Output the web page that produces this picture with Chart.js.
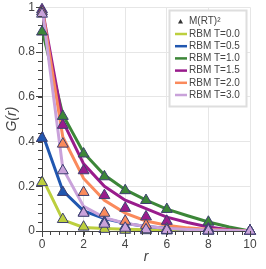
<!DOCTYPE html>
<html>
<head>
<meta charset="utf-8">
<script src="https://cdn.jsdelivr.net/npm/chart.js@4/dist/chart.umd.min.js"></script>
<style>
html,body{margin:0;padding:0;background:#fff;}
#wrap{width:266px;height:269px;position:relative;}
</style>
</head>
<body>
<div id="wrap"><canvas id="c" width="266" height="269"></canvas></div>
<script>
// ---- data ----
const lineR = [0, 1, 2, 3, 4, 5, 6, 7, 8, 9, 10];
const markerR = [0, 1, 2, 3, 4, 5, 6, 8, 10];
const temps = ["0.0", "0.5", "1.0", "1.5", "2.0", "3.0"];

const rbmT00 = [0.24, 0.05, 0.016, 0.011, 0.008, 0.006, 0.005, 0.003, 0.002, 0.001, 0];
const rbmT05 = [0.44, 0.18, 0.09, 0.056, 0.034, 0.02, 0.012, 0.008, 0.005, 0.002, 0];
const rbmT10 = [0.90, 0.52, 0.35, 0.25, 0.185, 0.138, 0.098, 0.068, 0.04, 0.018, 0];
const rbmT15 = [1.0, 0.49, 0.30, 0.20, 0.138, 0.10, 0.062, 0.038, 0.018, 0.006, 0];
const rbmT20 = [1.0, 0.42, 0.235, 0.137, 0.08, 0.045, 0.026, 0.014, 0.007, 0.003, 0];
const rbmT30 = [1.0, 0.28, 0.11, 0.06, 0.035, 0.02, 0.012, 0.007, 0.004, 0.002, 0];

const mrtT00 = [0.217, 0.052, 0.018, 0.008, 0.004, 0.002, 0.001, 0.0, 0.0];
const mrtT05 = [0.415, 0.173, 0.082, 0.04, 0.02, 0.01, 0.005, 0.002, 0.0];
const mrtT10 = [0.89, 0.513, 0.345, 0.243, 0.181, 0.137, 0.097, 0.04, 0.0];
const mrtT15 = [0.99, 0.473, 0.27, 0.159, 0.102, 0.064, 0.044, 0.01, 0.0];
const mrtT20 = [0.98, 0.389, 0.173, 0.08, 0.044, 0.026, 0.01, 0.002, 0.0];
const mrtT30 = [0.97, 0.27, 0.08, 0.031, 0.013, 0.006, 0.003, 0.001, 0.0];

const xTicks = [0, 2, 4, 6, 8, 10];
const yTicks = [0, 0.2, 0.4, 0.6, 0.8, 1];

const colors = ["#bccf3e", "#2157b0", "#3c8638", "#991c8c", "#fa8a5c", "#c9a2da"];
const markerEdge = "#3d3f70";
const rbmSeries = [rbmT00, rbmT05, rbmT10, rbmT15, rbmT20, rbmT30];
const mrtSeries = [mrtT00, mrtT05, mrtT10, mrtT15, mrtT20, mrtT30];

const FONT = "'Liberation Sans', Arial, sans-serif";

const datasets = [];
// markers on top (low order); later temperatures drawn above earlier ones
mrtSeries.forEach((vals, i) => {
  datasets.push({
    type: 'scatter',
    label: 'M(RT)² T=' + temps[i],
    data: markerR.map((r, k) => ({x: r, y: vals[k]})),
    pointStyle: 'triangle',
    pointRadius: 6.3,
    pointBorderWidth: 1,
    backgroundColor: colors[i],
    borderColor: markerEdge,
    showLine: false,
    order: 20 - i,
    clip: false
  });
});
rbmSeries.forEach((vals, i) => {
  datasets.push({
    type: 'line',
    label: 'RBM T=' + temps[i],
    data: lineR.map((r, k) => ({x: r, y: vals[k]})),
    borderColor: colors[i],
    backgroundColor: colors[i],
    borderWidth: 3,
    pointRadius: 0,
    tension: 0,
    fill: false,
    order: 40 - i
  });
});

const minorTicks = {
  id: 'minorTicks',
  afterDraw(chart) {
    const ctx = chart.ctx;
    const xs = chart.scales.x, ys = chart.scales.y;
    const ca = chart.chartArea;
    ctx.save();
    ctx.strokeStyle = '#444';
    ctx.lineWidth = 1;
    ctx.beginPath();
    for (let v = 0; v <= 10.0001; v += 0.4) {
      const px = Math.round(xs.getPixelForValue(v)) + 0.5;
      ctx.moveTo(px, ca.bottom);
      ctx.lineTo(px, ca.bottom + 4);
    }
    for (let v = 0; v <= 1.0001; v += 0.04) {
      const py = Math.round(ys.getPixelForValue(v)) + 0.5;
      ctx.moveTo(ca.left, py);
      ctx.lineTo(ca.left - 4, py);
    }
    ctx.stroke();
    ctx.restore();
  }
};

const legendBox = {
  id: 'legendBox',
  afterDatasetsDraw(chart) {
    const ctx = chart.ctx;
    ctx.save();
    const bx = 169.5, by = 10.5, bw = 77, bh = 96;
    ctx.fillStyle = 'rgba(255,255,255,0.95)';
    ctx.strokeStyle = '#dedede';
    ctx.lineWidth = 2;
    ctx.beginPath();
    ctx.rect(bx, by, bw, bh);
    ctx.fill();
    ctx.stroke();
    ctx.font = '10px ' + FONT;
    ctx.fillStyle = '#444';
    ctx.textBaseline = 'middle';
    ctx.textAlign = 'left';
    // marker entry
    const ty = 21.5;
    ctx.fillStyle = '#333';
    ctx.beginPath();
    ctx.moveTo(180.5, ty - 2.5);
    ctx.lineTo(183, ty + 2);
    ctx.lineTo(178, ty + 2);
    ctx.closePath();
    ctx.fill();
    ctx.fillStyle = '#444';
    ctx.fillText('M(RT)²', 189, ty);
    temps.forEach((t, i) => {
      const y = 34 + i * 12.2;
      ctx.strokeStyle = colors[i];
      ctx.lineWidth = 2.5;
      ctx.beginPath();
      ctx.moveTo(175, y);
      ctx.lineTo(187, y);
      ctx.stroke();
      ctx.fillStyle = '#444';
      ctx.fillText('RBM T=' + t, 189, y);
    });
    ctx.restore();
  }
};

new Chart(document.getElementById('c'), {
  data: { datasets },
  options: {
    responsive: false,
    animation: false,
    events: [],
    layout: { padding: { left: 0, right: 16, top: 4, bottom: 0 } },
    plugins: { legend: { display: false }, tooltip: { enabled: false } },
    scales: {
      x: {
        type: 'linear',
        min: 0, max: 10,
        afterBuildTicks: s => { s.ticks = xTicks.map(v => ({value: v})); },
        afterFit: s => { s.height = 38; s.paddingLeft = 0; s.paddingRight = 0; },
        ticks: { color: '#444', font: { family: FONT, size: 12 }, padding: 0, autoSkip: false, maxRotation: 0,
          callback: v => String(v) },
        grid: { color: ctx => (ctx.tick && ctx.tick.value === 0 ? 'rgba(0,0,0,0)' : '#e6e6e6'),
          lineWidth: 1, tickColor: '#444', tickLength: 6, drawTicks: true },
        border: { display: true, color: '#444', width: 1 },
        title: { display: true, text: 'r', color: '#444', font: { family: FONT, size: 14, style: 'italic' }, padding: { top: 0, bottom: 3 } }
      },
      y: {
        type: 'linear',
        min: 0, max: 1,
        afterBuildTicks: s => { s.ticks = yTicks.map(v => ({value: v})); },
        afterFit: s => { s.width = 42; s.paddingTop = 0; s.paddingBottom = 0; },
        ticks: { color: '#444', font: { family: FONT, size: 12 }, padding: 1, autoSkip: false,
          callback: v => String(Math.round(v * 10) / 10) },
        grid: { color: ctx => (ctx.tick && ctx.tick.value === 0 ? 'rgba(0,0,0,0)' : '#e6e6e6'),
          lineWidth: 1, tickColor: '#444', tickLength: 6, drawTicks: true },
        border: { display: true, color: '#444', width: 1 },
        title: { display: true, text: 'G(r)', color: '#444', font: { family: FONT, size: 14, style: 'italic' }, padding: { top: 4, bottom: 0 } }
      }
    }
  },
  plugins: [minorTicks, legendBox]
});
</script>
</body>
</html>
